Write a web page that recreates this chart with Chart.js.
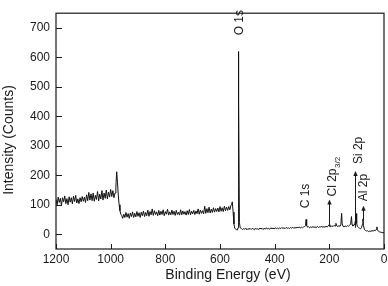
<!DOCTYPE html>
<html>
<head>
<meta charset="utf-8">
<script src="https://cdn.jsdelivr.net/npm/chart.js@4.4.1/dist/chart.umd.min.js"></script>
<style>
html,body{margin:0;padding:0;background:#fff;}
#wrap{position:relative;width:388px;height:286px;}
</style>
</head>
<body>
<div id="wrap"><canvas id="c" width="388" height="286"></canvas></div>
<script>
// Binding energy (eV) and intensity (counts)
const energy = [
  1200,1196,1192,1188,1184,1180,1176,1172,1168,1164,
  1160,1156,1152,1148,1144,1140,1136,1132,1128,1124,
  1120,1116,1112,1108,1104,1100,1096,1092,1088,1084,
  1080,1076,1072,1068,1064,1060,1056,1052,1048,1044,
  1040,1036,1032,1028,1024,1020,1016,1012,1008,1004,
  1000,996,992,988,
  984,981,978,975,972,969,966,963,
  960,956,952,948,944,940,936,932,928,924,
  920,916,912,908,904,900,896,892,888,884,
  880,876,872,868,864,860,856,852,848,844,
  840,836,832,828,824,820,816,812,808,804,
  800,796,792,788,784,780,776,772,768,764,
  760,756,752,748,744,740,736,732,728,724,
  720,716,712,708,704,700,696,692,688,684,
  680,676,672,668,664,660,656,652,648,644,
  640,636,632,628,624,620,616,612,608,604,
  600,596,592,588,584,580,576,572,568,564,
  561,558,555,552,549,546,543,540,537,534,533,532,531,529,526,
  522,518,514,510,506,502,498,494,490,486,
  482,478,474,470,466,462,458,454,450,446,
  442,438,434,430,426,422,418,414,410,406,
  402,398,394,390,386,382,378,374,370,366,
  362,358,354,350,346,342,338,334,330,326,
  322,318,314,310,306,302,298,294,290,287,285,283,280,
  276,272,268,264,260,256,252,248,244,240,
  236,232,228,224,220,216,212,208,204,201,198,
  195,191,187,183,179,176,173,169,165,161,158,155,153,150,
  146,142,138,134,130,126,122,119,117,114,
  110,107,104,102,100,97,93,89,85,82,79,77,75,72,
  68,64,60,56,52,48,44,40,36,32,28,26,24,20,16,12,8,4,0
];
const counts = [
  118,100,126,108,122,98,124,110,130,104,
  121,100,127,109,124,103,129,111,132,106,
  120,104,124,110,128,112,126,108,134,114,
  142,116,137,114,140,112,132,118,145,113,
  136,120,148,116,140,122,150,120,143,126,
  152,128,148,124,
  140,160,212,175,130,100,80,68,
  65,54,68,57,74,58,70,54,72,60,
  76,57,71,59,77,61,73,57,75,63,
  79,60,74,63,82,61,77,66,86,64,
  80,67,76,63,81,65,78,67,83,63,
  77,68,85,65,76,66,82,67,78,64,
  81,67,75,65,83,66,79,68,77,65,
  80,67,84,66,78,69,81,67,79,70,
  86,68,82,71,80,69,95,71,87,73,
  92,72,85,74,90,75,87,77,89,76,
  94,78,90,77,95,80,92,81,94,83,
  96,100,110,75,35,20,18,16,14,22,30,620,450,40,22,
  20,16,19,17,21,15,19,17,20,16,
  20,18,15,21,17,19,16,21,18,20,
  16,21,17,22,18,20,17,22,19,21,
  18,22,19,21,18,22,19,23,20,22,
  19,23,20,22,19,23,21,24,20,23,
  21,24,22,25,21,24,22,25,26,30,50,30,24,
  26,22,25,23,26,23,25,22,27,23,
  25,24,28,23,26,24,27,25,28,32,27,
  25,29,26,30,28,37,29,26,29,27,32,71,35,27,
  25,28,26,29,27,30,35,60,33,28,
  30,35,48,70,37,26,23,20,19,23,34,52,29,17,
  13,11,12,9,11,10,12,11,13,12,17,25,15,10,8,7,6,5,6
];
const xTickValues = [0, 200, 400, 600, 800, 1000, 1200];
const yTickValues = [0, 100, 200, 300, 400, 500, 600, 700];
const xTitle = 'Binding Energy (eV)';
const yTitle = 'Intensity (Counts)';

// Peak labels: [text, subscript, label energy, label start count, arrow energy, arrow from, arrow to]
const peakLabels = [
  ['O 1s', '', 533, 675, null, null, null],
  ['C 1s', '', 289, 88, null, null, null],
  ['Cl 2p', '3/2', 190, 128, 201, 27, 118],
  ['Si 2p', '', 96, 238, 106, 22, 215],
  ['Al 2p', '', 77, 112, 77, 45, 97]
];

const FONT = "'Liberation Sans', Arial, Helvetica, sans-serif";

const decor = {
  id: 'decor',
  afterDraw(chart) {
    const ctx = chart.ctx;
    const a = chart.chartArea;
    const xs = chart.scales.x, ys = chart.scales.y;
    ctx.save();
    ctx.strokeStyle = '#1a1a1a';
    ctx.lineWidth = 1.2;
    ctx.strokeRect(a.left, a.top, a.right - a.left, a.bottom - a.top);
    ctx.lineWidth = 1;
    ctx.beginPath();
    yTickValues.forEach(v => {
      const y = Math.round(ys.getPixelForValue(v)) + 0.5;
      ctx.moveTo(a.left, y); ctx.lineTo(a.left + 6, y);
    });
    xTickValues.forEach(v => {
      const x = Math.round(xs.getPixelForValue(v)) + 0.5;
      ctx.moveTo(x, a.bottom); ctx.lineTo(x, a.bottom - 5);
    });
    ctx.stroke();

    // axis titles
    ctx.fillStyle = '#1a1a1a';
    ctx.font = '14px ' + FONT;
    ctx.textAlign = 'center';
    ctx.textBaseline = 'middle';
    ctx.fillText(xTitle, 228, 275);
    ctx.save();
    ctx.translate(9, 140);
    ctx.rotate(-Math.PI / 2);
    ctx.fillText(yTitle, 0, 0);
    ctx.restore();

    // peak labels
    peakLabels.forEach(p => {
      const [txt, sub, le, lv, ae, af, at] = p;
      const px = xs.getPixelForValue(le);
      const py = ys.getPixelForValue(lv);
      ctx.save();
      ctx.translate(px, py);
      ctx.rotate(-Math.PI / 2);
      ctx.font = '12px ' + FONT;
      ctx.textAlign = 'left';
      ctx.textBaseline = 'alphabetic';
      ctx.fillText(txt, 0, 4.3);
      if (sub) {
        const w = ctx.measureText(txt).width;
        ctx.font = '8px ' + FONT;
        ctx.fillText(sub, w + 0.5, 7.5);
      }
      ctx.restore();
      if (ae !== null) {
        const ax = Math.round(xs.getPixelForValue(ae)) + 0.5;
        const y1 = ys.getPixelForValue(af);
        const y2 = ys.getPixelForValue(at);
        ctx.beginPath();
        ctx.moveTo(ax, y1); ctx.lineTo(ax, y2 + 4);
        ctx.stroke();
        ctx.beginPath();
        ctx.moveTo(ax, y2);
        ctx.lineTo(ax - 2.2, y2 + 5);
        ctx.lineTo(ax + 2.2, y2 + 5);
        ctx.closePath();
        ctx.fill();
      }
    });
    ctx.restore();
  }
};

new Chart(document.getElementById('c'), {
  type: 'line',
  data: {
    datasets: [{
      data: energy.map((e, i) => ({ x: e, y: counts[i] })),
      borderColor: '#111',
      borderWidth: 1,
      pointRadius: 0,
      tension: 0,
      fill: false
    }]
  },
  options: {
    responsive: false,
    animation: false,
    devicePixelRatio: 1,
    layout: { padding: { top: 2, right: 4, left: 0, bottom: 0 } },
    plugins: { legend: { display: false }, tooltip: { enabled: false } },
    scales: {
      x: {
        type: 'linear', reverse: true, min: 0, max: 1200,
        afterBuildTicks: s => { s.ticks = xTickValues.map(v => ({ value: v })); },
        afterFit: s => { s.height = 37; },
        grid: { display: false, drawTicks: false },
        border: { display: false },
        ticks: { padding: 3, maxRotation: 0, autoSkip: false, color: '#1a1a1a',
                 font: { family: FONT, size: 12 }, callback: v => String(v) }
      },
      y: {
        type: 'linear', min: -50, max: 750,
        afterBuildTicks: s => { s.ticks = yTickValues.map(v => ({ value: v })); },
        afterFit: s => { s.width = 56; },
        grid: { display: false, drawTicks: false },
        border: { display: false },
        ticks: { padding: 6, color: '#1a1a1a', font: { family: FONT, size: 12 }, callback: v => String(v) }
      }
    }
  },
  plugins: [decor]
});
</script>
</body>
</html>
